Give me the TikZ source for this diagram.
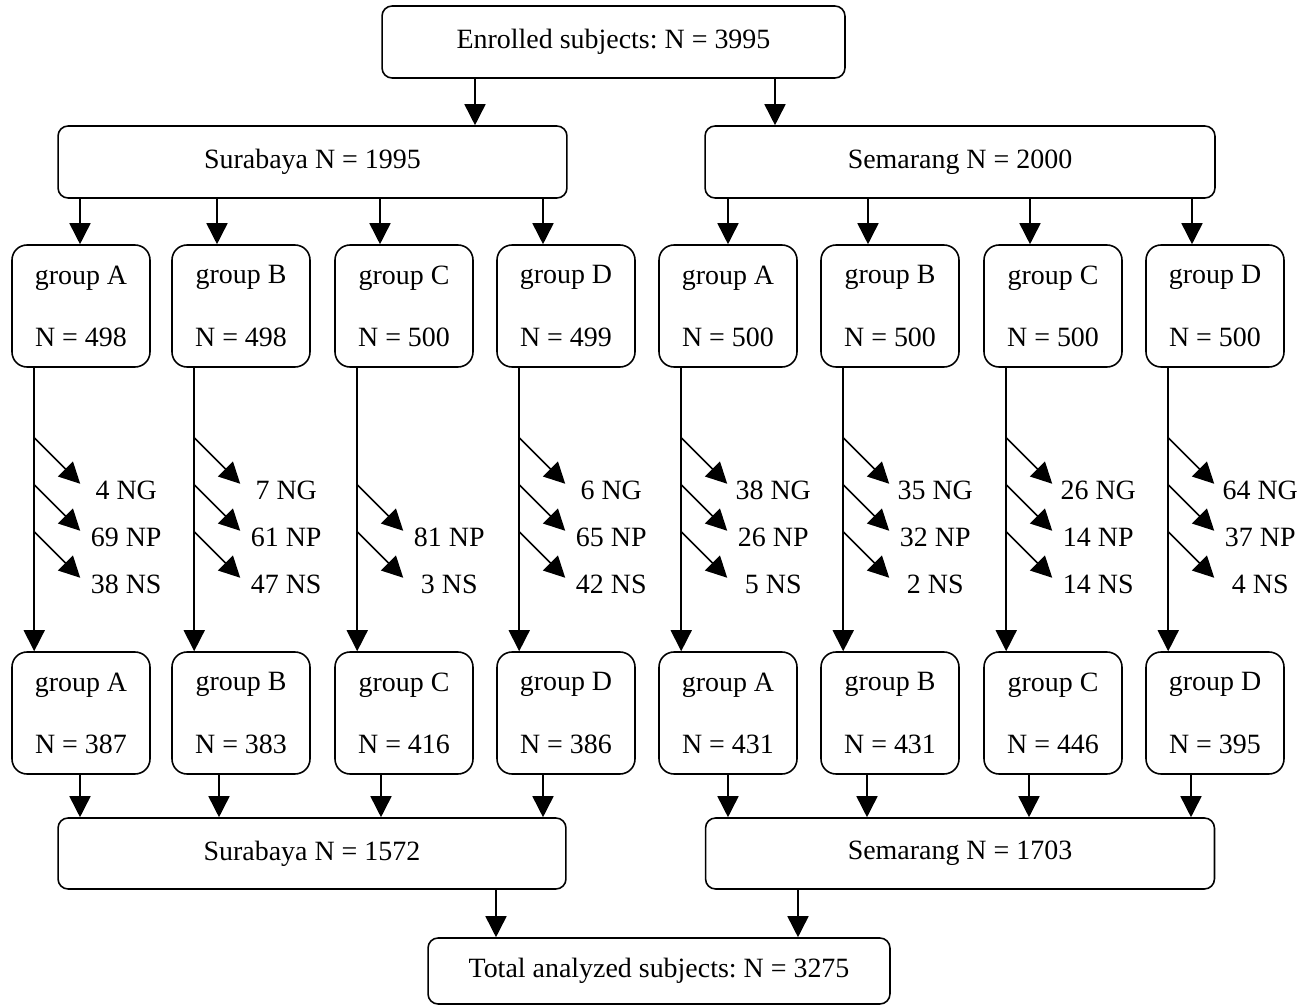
\documentclass[tikz,border=0pt]{standalone}
\usepackage{fontspec}
\setmainfont{Liberation Serif}
\usepackage{tikz}
\usetikzlibrary{calc,arrows.meta}
\frenchspacing
\tikzset{
  box/.style={draw, rounded corners=0.2cm, line width=0.9pt, minimum height=1.44cm, inner sep=0pt},
  grp/.style={draw, rounded corners=0.3cm, line width=0.9pt, minimum width=2.76cm, minimum height=2.44cm, align=center, inner sep=0pt},
  arr/.style={line width=0.9pt, -{Triangle[length=0.42cm, width=0.42cm]}},
  lab/.style={inner sep=0pt},
}

\begin{document}
\begin{tikzpicture}[x=0.02cm, y=-0.02cm, font=\fontsize{15.9}{19}\selectfont]
  \useasboundingbox (0,0) rectangle (1309,1006);

  \node[box, minimum width=9.26cm] (enr) at (613.5,42) {Enrolled subjects: N = 3995};
  \node[box, minimum width=10.18cm] (sby) at (312.5,162) {Surabaya N = 1995};
  \node[box, minimum width=10.2cm] (smg) at (960,162) {Semarang N = 2000};
  \node[box, minimum width=10.16cm, minimum height=1.42cm] (sbyf) at (312,853.5) {Surabaya N = 1572};
  \node[box, minimum width=10.18cm, minimum height=1.42cm] (smgf) at (960,853.5) {Semarang N = 1703};
  \node[box, minimum width=9.24cm, minimum height=1.32cm] (tot) at (659,971) {Total analyzed subjects: N = 3275};

  \draw[arr] (enr.south -| 475,0) -- (sby.north -| 475,0);
  \draw[arr] (enr.south -| 775,0) -- (smg.north -| 775,0);
  \draw[arr] (sbyf.south -| 496,0) -- (tot.north -| 496,0);
  \draw[arr] (smgf.south -| 798,0) -- (tot.north -| 798,0);

  \foreach \g/\cx/\ain/\aout/\grpL/\nt/\nb/\src/\snk in {
      sA/81/80/80/A/498/387/sby/sbyf,
      sB/241/217/219/B/498/383/sby/sbyf,
      sC/404/380/381/C/500/416/sby/sbyf,
      sD/566/543/543/D/499/386/sby/sbyf,
      mA/728/728/728/A/500/431/smg/smgf,
      mB/890/868/867/B/500/431/smg/smgf,
      mC/1053/1030/1029/C/500/446/smg/smgf,
      mD/1215/1192/1191/D/500/395/smg/smgf} {
    \node[grp] (\g1) at (\cx,306) {group \grpL\\[16.3pt]N = \nt};
    \node[grp] (\g2) at (\cx,713) {group \grpL\\[16.3pt]N = \nb};
    \draw[arr] (\src.south -| \ain,0) -- (\g1.north -| \ain,0);
    \draw[arr] ([xshift=0.46cm]\g1.south west) -- ([xshift=0.46cm]\g2.north west);
    \draw[arr] (\g2.south -| \aout,0) -- (\snk.north -| \aout,0);
  }

  \foreach \g/\r/\txt [count=\i] in {
      sA/0/4 NG, sA/1/69 NP, sA/2/38 NS,
      sB/0/7 NG, sB/1/61 NP, sB/2/47 NS,
      sC/1/81 NP, sC/2/3 NS,
      sD/0/6 NG, sD/1/65 NP, sD/2/42 NS,
      mA/0/38 NG, mA/1/26 NP, mA/2/5 NS,
      mB/0/35 NG, mB/1/32 NP, mB/2/2 NS,
      mC/0/26 NG, mC/1/14 NP, mC/2/14 NS,
      mD/0/64 NG, mD/1/37 NP, mD/2/4 NS} {
    \coordinate (o\i) at ($(\g1.south west)+(23,70+47*\r)$);
    \coordinate (t\i) at ($(o\i)+(46,46)$);
    \draw[arr] (o\i) -- (t\i);
    \node[lab] (d\i) at ($(o\i)+(92,53)$) {\txt};
  }
\end{tikzpicture}
\end{document}
